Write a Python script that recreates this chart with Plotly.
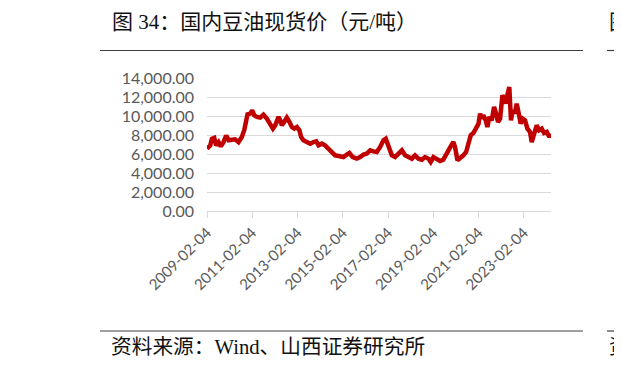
import plotly.graph_objects as go

dates = [
    "2009-02-04", "2009-03-28", "2009-04-24", "2009-06-01", "2009-07-01", "2009-08-10",
    "2009-09-15", "2009-10-28", "2009-12-10", "2010-01-20", "2010-03-12", "2010-05-04",
    "2010-06-28", "2010-08-20", "2010-09-28", "2010-10-25", "2010-11-20", "2011-01-04",
    "2011-02-04", "2011-03-08", "2011-04-20", "2011-06-13", "2011-08-04", "2011-09-28",
    "2011-11-22", "2012-01-04", "2012-02-10", "2012-03-07", "2012-04-04", "2012-05-01",
    "2012-05-27", "2012-07-04", "2012-08-16", "2012-09-28", "2012-11-05", "2012-12-13",
    "2013-01-25", "2013-03-07", "2013-04-04", "2013-05-10", "2013-07-04", "2013-08-28",
    "2013-10-20", "2013-12-03", "2014-01-10", "2014-03-03", "2014-04-25", "2014-06-19",
    "2014-08-11", "2014-10-04", "2014-11-28", "2014-12-25", "2015-02-15", "2015-04-10",
    "2015-05-22", "2015-07-15", "2015-09-18", "2015-11-12", "2016-01-04", "2016-02-28",
    "2016-04-22", "2016-06-13", "2016-08-07", "2016-09-30", "2016-11-22", "2016-12-30",
    "2017-02-13", "2017-04-07", "2017-05-30", "2017-07-22", "2017-09-15", "2017-11-07",
    "2017-12-31", "2018-02-24", "2018-04-16", "2018-06-10", "2018-08-04", "2018-09-25",
    "2018-11-19", "2018-12-25", "2019-02-07", "2019-04-01", "2019-05-25", "2019-07-16",
    "2019-08-31", "2019-10-07", "2019-11-13", "2019-12-26", "2020-01-22", "2020-03-01",
    "2020-04-13", "2020-06-04", "2020-07-19", "2020-08-25", "2020-10-01", "2020-11-13",
    "2020-12-28", "2021-02-04", "2021-03-01", "2021-03-28", "2021-04-22", "2021-05-31",
    "2021-06-28", "2021-07-28", "2021-09-05", "2021-10-13", "2021-11-15", "2021-12-16",
    "2022-01-18", "2022-02-25", "2022-03-22", "2022-04-18", "2022-05-20", "2022-06-16",
    "2022-07-13", "2022-08-10", "2022-09-12", "2022-10-13", "2022-11-16", "2022-12-16",
    "2023-01-19", "2023-02-25", "2023-04-04", "2023-05-16", "2023-06-13", "2023-07-20",
    "2023-09-01", "2023-10-10", "2023-11-22", "2023-12-29", "2024-02-10", "2024-03-23",
    "2024-04-19",
]
prices = [
    6560, 6900, 7600, 7700, 6900, 7250,
    6800, 7250, 7950, 7450, 7500, 7550,
    7250, 7800, 8500, 9550, 10180, 10250,
    10600, 10070, 9900, 9830, 10140, 9720,
    9020, 8670, 9020, 9470, 9900, 9550,
    9020, 9370, 9830, 9370, 8840, 8670,
    8840, 8490, 7790, 7440, 7260, 7090,
    7260, 7330, 6910, 7090, 6910, 6560,
    6100, 5860, 5790, 5750, 5680, 5930,
    6100, 5680, 5510, 5680, 5930, 6040,
    6390, 6280, 6210, 6740, 7440, 7610,
    6910, 5860, 5680, 6040, 6390, 5860,
    5680, 5510, 5860, 5510, 5400, 5680,
    5510, 5160, 5680, 5510, 5260, 5400,
    6040, 6320, 6810, 7260, 6740, 5330,
    5510, 5860, 6210, 7260, 7970, 8210,
    8670, 9190, 10250, 9720, 10070, 9540,
    8840, 9900, 9540, 10950, 10250, 9370,
    9720, 12180, 11830, 11300, 12350, 13050,
    9540, 10600, 10250, 11300, 10250, 9190,
    9720, 9540, 8670, 8320, 7260, 8140,
    9020, 8490, 8670, 8210, 8320, 7790,
    8140,
]
tick_dates = ["2009-02-04", "2011-02-04", "2013-02-04", "2015-02-04",
              "2017-02-04", "2019-02-04", "2021-02-04", "2023-02-04"]
tick_labels = list(tick_dates)
y_ticks = [0, 2000, 4000, 6000, 8000, 10000, 12000, 14000]

title_text = "图 34：国内豆油现货价（元/吨）"
source_text = "资料来源：Wind、山西证券研究所"

# page body has an 8px margin, so figure coordinates are shifted by 8px
OFF = 8
W, H = 622 - OFF, 370 - OFF
L, R, T, B = 207 - OFF, 551 - OFF, 78 - OFF, 211 - OFF


def px(x):
    return (x - OFF - L) / (R - L)


def py(y):
    return (B - (y - OFF)) / (B - T)


fig = go.Figure()
fig.add_trace(go.Scatter(
    x=dates, y=prices, mode="lines",
    line=dict(color="#C00000", width=4.5),
    showlegend=False, hoverinfo="skip",
))

label_font = dict(family="Lato, Calibri, sans-serif", size=16, color="#595959")
fig.update_layout(
    width=W, height=H,
    margin=dict(l=L, r=W - R, t=T, b=H - B, pad=0),
    paper_bgcolor="white", plot_bgcolor="white",
    xaxis=dict(
        type="date", range=["2009-02-04", "2024-04-19"],
        tickvals=tick_dates, ticktext=tick_labels, tickangle=-45,
        showgrid=False, showline=True, linecolor="#d9d9d9", linewidth=1,
        ticks="outside", ticklen=6, tickcolor="#d9d9d9", tickwidth=1,
        tickfont=dict(family="Lato, Calibri, sans-serif", size=15, color="#595959"),
        zeroline=False,
    ),
    yaxis=dict(
        range=[0, 14000], tickvals=y_ticks, tickformat=",.2f",
        showgrid=True, gridcolor="#d9d9d9", gridwidth=1,
        showline=False, zeroline=False, ticks="", ticklabelstandoff=12,
        tickfont=label_font,
    ),
)

cjk = "Liberation Serif, Noto Sans CJK SC, serif"
for txt, x, y, sz in ((title_text, 110, 22, 21), (source_text, 109, 347, 20.7),
                      ("图 35", 607, 22, 21), ("资料", 607, 347, 20.7)):
    fig.add_annotation(text=txt, xref="paper", yref="paper",
                       x=px(x), y=py(y), xanchor="left", yanchor="middle",
                       showarrow=False,
                       font=dict(family=cjk, size=sz, color="#111111"))

for yy in (50.5, 331):
    for x0, x1 in ((100, 583), (607, 622)):
        fig.add_shape(type="line", xref="paper", yref="paper",
                      x0=px(x0), x1=px(x1), y0=py(yy), y1=py(yy),
                      line=dict(color="#404040", width=1.2))

fig.write_html("out.html")
